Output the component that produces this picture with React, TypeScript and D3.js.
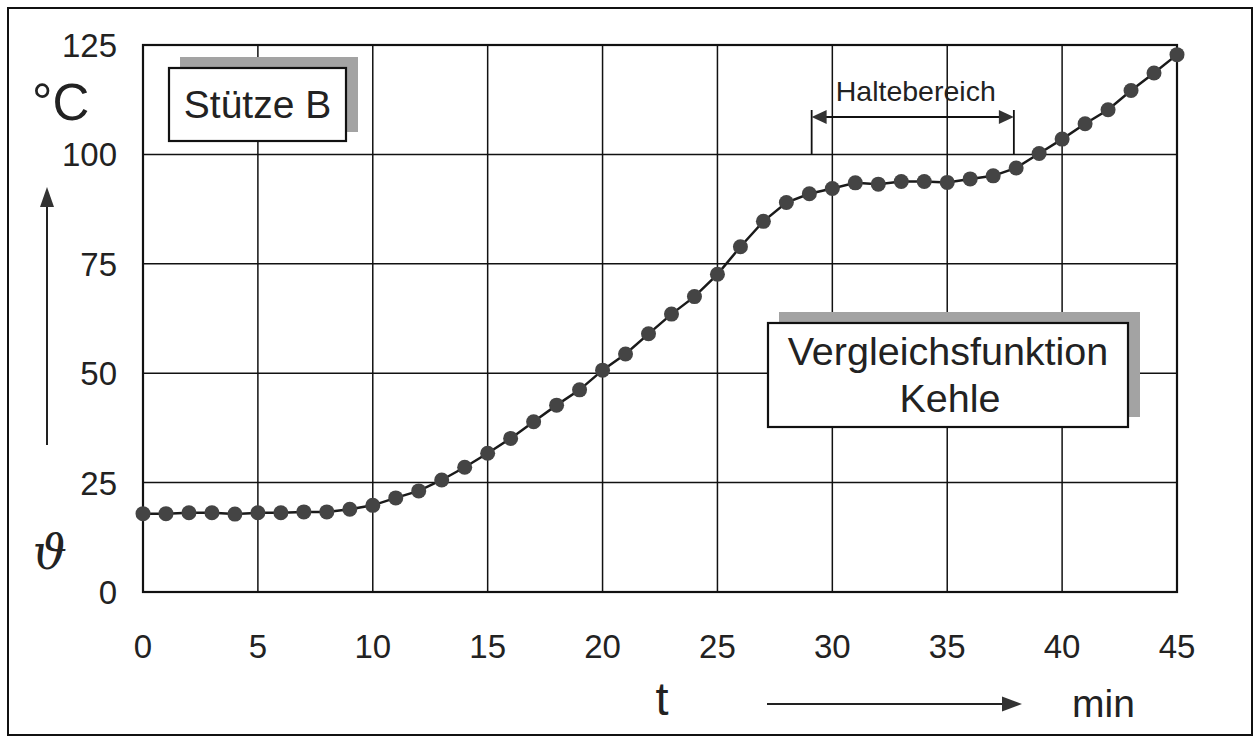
import React from "react";
import * as d3 from "d3";

const minutes: number[] = d3.range(0, 46);
const temps: number[] = [
  17.9, 17.9, 18.1, 18.1, 17.8, 18.1, 18.1, 18.3, 18.3, 18.9,
  19.8, 21.5, 23.1, 25.6, 28.5, 31.7, 35.1, 38.9, 42.7, 46.2,
  50.7, 54.4, 59.0, 63.5, 67.5, 72.6, 78.9, 84.7, 89.0, 91.0,
  92.2, 93.5, 93.2, 93.8, 93.8, 93.6, 94.4, 95.1, 96.9, 100.2,
  103.5, 107.0, 110.2, 114.6, 118.6, 122.8,
];
const xTicks: number[] = [0, 5, 10, 15, 20, 25, 30, 35, 40, 45];
const yTicks: number[] = [0, 25, 50, 75, 100, 125];
const holdRange: number[] = [29.1, 37.9];
const holdLabel = "Haltebereich";
const boxLabel1 = "Stütze B";
const boxLabel2 = ["Vergleichsfunktion", "Kehle"];

const FONT = "'Liberation Sans', Arial, Helvetica, sans-serif";

export default function App() {
  const x = d3.scaleLinear().domain([0, 45]).range([143, 1177]);
  const y = d3.scaleLinear().domain([0, 125]).range([592, 45]);
  const line = d3
    .line<number>()
    .x((_, i) => x(minutes[i]))
    .y((d) => y(d));

  const hx0 = x(holdRange[0]);
  const hx1 = x(holdRange[1]);
  const hy = 117;

  return (
    <svg
      width={1260}
      height={747}
      style={{ position: "absolute", left: 0, top: 0, background: "#fff" }}
      fontFamily={FONT}
    >
      <rect x={0} y={0} width={1260} height={747} fill="#fff" />
      {/* outer frame */}
      <rect x={8} y={8} width={1244} height={727} fill="none" stroke="#111" strokeWidth={2} />

      {/* grid */}
      {xTicks.map((t) => (
        <line key={"gx" + t} x1={x(t)} x2={x(t)} y1={y(0)} y2={y(125)} stroke="#111" strokeWidth={1.5} />
      ))}
      {yTicks.map((t) => (
        <line key={"gy" + t} x1={x(0)} x2={x(45)} y1={y(t)} y2={y(t)} stroke="#111" strokeWidth={1.5} />
      ))}
      <rect x={x(0)} y={y(125)} width={x(45) - x(0)} height={y(0) - y(125)} fill="none" stroke="#111" strokeWidth={2.2} />

      {/* tick labels */}
      {xTicks.map((t) => (
        <text key={"tx" + t} x={x(t)} y={658} textAnchor="middle" fontSize={33} fill="#222">
          {t}
        </text>
      ))}
      {yTicks.map((t) => (
        <text key={"ty" + t} x={117} y={y(t) + 12} textAnchor="end" fontSize={33} fill="#222">
          {t}
        </text>
      ))}

      {/* unit and axis symbols */}
      <text x={32} y={120} fontSize={51} fill="#222">°C</text>
      <line x1={47} x2={47} y1={445} y2={205} stroke="#222" strokeWidth={2} />
      <path d="M47,187 L40,207 L54,207 Z" fill="#333" />
      <text x={50} y={569} textAnchor="middle" fontSize={48} fontFamily="'DejaVu Serif', serif" fontStyle="italic" fill="#222">ϑ</text>

      <text x={662} y={715} textAnchor="middle" fontSize={47} fill="#222">t</text>
      <line x1={767} x2={1004} y1={704} y2={704} stroke="#222" strokeWidth={2} />
      <path d="M1022,704 L1002,696.5 L1002,711.5 Z" fill="#333" />
      <text x={1072} y={717} fontSize={39} fill="#222">min</text>

      {/* Haltebereich bracket */}
      <line x1={hx0} x2={hx0} y1={110} y2={y(100)} stroke="#111" strokeWidth={1.8} />
      <line x1={hx1} x2={hx1} y1={110} y2={y(100)} stroke="#111" strokeWidth={1.8} />
      <line x1={hx0 + 12} x2={hx1 - 12} y1={hy} y2={hy} stroke="#111" strokeWidth={1.8} />
      <path d={`M${hx0},${hy} L${hx0 + 15},${hy - 7} L${hx0 + 15},${hy + 7} Z`} fill="#333" />
      <path d={`M${hx1},${hy} L${hx1 - 15},${hy - 7} L${hx1 - 15},${hy + 7} Z`} fill="#333" />
      <text x={(hx0 + hx1) / 2 + 3} y={101} textAnchor="middle" fontSize={28.5} fill="#222">{holdLabel}</text>

      {/* data */}
      <path d={line(temps) || ""} fill="none" stroke="#1a1a1a" strokeWidth={2.5} />
      {temps.map((v, i) => (
        <circle key={"p" + i} cx={x(minutes[i])} cy={y(v)} r={7.5} fill="#444" />
      ))}

      {/* Stütze B box */}
      <rect x={180} y={57} width={178} height={75} fill="#a3a3a3" />
      <rect x={169} y={68} width={177} height={73} fill="#fff" stroke="#111" strokeWidth={2.2} />
      <text x={257.5} y={118} textAnchor="middle" fontSize={39} fill="#222">{boxLabel1}</text>

      {/* Vergleichsfunktion box */}
      <rect x={779} y={312} width={361} height={105} fill="#a3a3a3" />
      <rect x={768} y={323} width={360} height={104} fill="#fff" stroke="#111" strokeWidth={2.2} />
      <text x={948} y={365} textAnchor="middle" fontSize={39.5} fill="#222">{boxLabel2[0]}</text>
      <text x={950} y={412} textAnchor="middle" fontSize={39.5} fill="#222">{boxLabel2[1]}</text>
    </svg>
  );
}
